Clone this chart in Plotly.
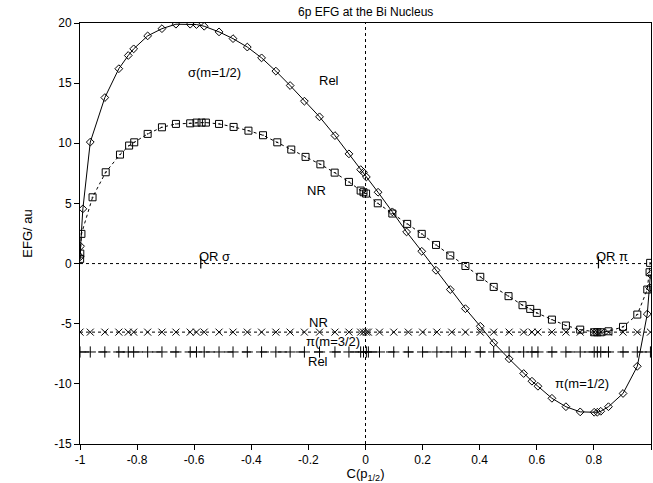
import plotly.graph_objects as go

# sigma(m=1/2), relativistic (diamonds, solid)
rel_sig_x = [-0.9995, -0.998, -0.99, -0.964, -0.913, -0.864, -0.831, -0.812, -0.763, -0.713,
             -0.664, -0.614, -0.592, -0.565, -0.513, -0.464, -0.414, -0.364, -0.314, -0.264,
             -0.214, -0.161, -0.107, -0.058, -0.017, -0.007, 0.003, 0.044, 0.094, 0.144,
             0.197, 0.247, 0.297, 0.35, 0.402, 0.449, 0.503, 0.554, 0.583, 0.604, 0.653,
             0.702, 0.752, 0.801, 0.812, 0.824, 0.851, 0.902, 0.952, 0.987, 0.995, 0.998]
rel_sig_y = [0.56, 1.44, 4.55, 10.1, 13.8, 16.2, 17.3, 17.85, 18.93, 19.53,
             19.9, 19.9, 19.87, 19.73, 19.26, 18.7, 18.0, 17.1, 16.0, 14.8,
             13.5, 12.2, 10.64, 9.12, 7.81, 7.59, 7.2, 5.93, 4.3, 2.63,
             1.02, -0.56, -2.16, -3.75, -5.21, -6.59, -7.92, -9.14, -9.78, -10.2, -11.2,
             -11.9, -12.33, -12.36, -12.36, -12.28, -11.9, -10.8, -8.54, -4.2, -2.0, -0.9]

# sigma(m=1/2), non-relativistic (squares, dotted)
nr_sig_x = [-0.9995, -0.999, -0.995, -0.956, -0.91, -0.86, -0.828, -0.81, -0.763, -0.713,
            -0.664, -0.614, -0.592, -0.574, -0.559, -0.513, -0.462, -0.41, -0.359, -0.309,
            -0.26, -0.21, -0.158, -0.108, -0.058, -0.017, -0.007, 0.002, 0.043, 0.094,
            0.146, 0.197, 0.247, 0.297, 0.35, 0.402, 0.449, 0.501, 0.55, 0.577, 0.6,
            0.653, 0.702, 0.752, 0.801, 0.812, 0.824, 0.851, 0.902, 0.952, 0.987, 0.995, 0.997]
nr_sig_y = [0.39, 0.83, 2.47, 5.51, 7.59, 9.06, 9.81, 10.08, 10.78, 11.33,
            11.61, 11.66, 11.72, 11.72, 11.72, 11.61, 11.36, 11.05, 10.67, 10.08,
            9.48, 8.87, 8.25, 7.56, 6.79, 6.07, 5.93, 5.82, 5.01, 4.16,
            3.3, 2.47, 1.55, 0.67, -0.2, -1.1, -1.94, -2.71, -3.46, -3.77, -4.1,
            -4.66, -5.15, -5.49, -5.71, -5.71, -5.71, -5.63, -5.26, -4.24, -2.16, -0.72, 0.06]

# pi(m=3/2) sampled on the same coefficients
pi32_x = [-1.0, -0.964, -0.913, -0.864, -0.831, -0.812, -0.763, -0.713, -0.664, -0.614,
          -0.592, -0.565, -0.513, -0.464, -0.414, -0.364, -0.314, -0.264, -0.214, -0.161,
          -0.107, -0.058, -0.017, -0.007, 0.003, 0.01, 0.049, 0.099, 0.15, 0.2, 0.25,
          0.302, 0.35, 0.402, 0.449, 0.503, 0.554, 0.583, 0.604, 0.653, 0.702, 0.752,
          0.801, 0.812, 0.824, 0.851, 0.902, 0.952, 0.998]
pi32_nr_y = [-5.7] * len(pi32_x)
pi32_rel_y = [-7.35] * len(pi32_x)

# quasi-relativistic reference points
qr_x = [-0.577, 0.816]
qr_labels = ["QR σ", "QR π"]

fig = go.Figure()

fig.add_hline(y=0, line=dict(color="black", width=1, dash="dot"))
fig.add_vline(x=0, line=dict(color="black", width=1, dash="dot"))

fig.add_trace(go.Scatter(x=pi32_x, y=pi32_nr_y, mode="lines+markers",
                         line=dict(color="black", width=1, dash="dot"),
                         marker=dict(symbol="x-thin-open", size=7, color="black",
                                     line=dict(width=1, color="black"))))
fig.add_trace(go.Scatter(x=pi32_x, y=pi32_rel_y, mode="lines+markers",
                         line=dict(color="black", width=1, dash="dash"),
                         marker=dict(symbol="cross-thin-open", size=8, color="black",
                                     line=dict(width=1, color="black"))))
fig.add_trace(go.Scatter(x=nr_sig_x, y=nr_sig_y, mode="lines+markers",
                         line=dict(color="black", width=1, dash="dot"),
                         marker=dict(symbol="square-open-dot", size=7, color="black",
                                     line=dict(width=1, color="black"))))
fig.add_trace(go.Scatter(x=rel_sig_x, y=rel_sig_y, mode="lines+markers",
                         line=dict(color="black", width=1),
                         marker=dict(symbol="diamond-open", size=6, color="black",
                                     line=dict(width=1, color="black"))))

for qx, lab in zip(qr_x, qr_labels):
    fig.add_trace(go.Scatter(x=[qx, qx], y=[0.6, -0.4], mode="lines",
                             line=dict(color="black", width=1.2)))
    fig.add_annotation(x=qx, y=0, text=lab, showarrow=False, xanchor="left",
                       yanchor="bottom", xshift=-4, yshift=-2,
                       font=dict(size=13, color="black"))

texts = [
    (-0.53, 15.9, "σ(m=1/2)"),
    (-0.127, 15.2, "Rel"),
    (-0.172, 6.1, "NR"),
    (-0.165, -4.9, "NR"),
    (-0.114, -6.5, "π(m=3/2)"),
    (-0.165, -8.1, "Rel"),
    (0.76, -10.0, "π(m=1/2)"),
]
for tx, ty, tt in texts:
    fig.add_annotation(x=tx, y=ty, text=tt, showarrow=False,
                       font=dict(size=13, color="black"))

fig.update_layout(
    width=653, height=483,
    margin=dict(l=80, r=2, t=23, b=39),
    paper_bgcolor="white", plot_bgcolor="white",
    showlegend=False,
    font=dict(family="Liberation Sans, Arial, sans-serif", size=12, color="black"),
    title=dict(text="6p EFG at the Bi Nucleus", x=0.56, xanchor="center",
               y=0.985, yanchor="top", font=dict(size=12)),
)
xt = [-1, -0.8, -0.6, -0.4, -0.2, 0, 0.2, 0.4, 0.6, 0.8, 1]
fig.update_xaxes(range=[-1, 1], tickvals=xt,
                 ticktext=["-1", "-0.8", "-0.6", "-0.4", "-0.2", "0", "0.2", "0.4", "0.6", "0.8", "1"],
                 showline=True, linecolor="black", linewidth=1, mirror=True,
                 ticks="outside", ticklen=5, tickcolor="black", showgrid=False,
                 zeroline=False, title=dict(text="C(p<sub>1/2</sub>)", standoff=0,
                                            font=dict(size=13)))
yt = [-15, -10, -5, 0, 5, 10, 15, 20]
fig.update_yaxes(range=[-15, 20], tickvals=yt,
                 ticktext=["-15", "-10", "-5", "0", "5", "10", "15", "20"],
                 showline=True, linecolor="black", linewidth=1, mirror=True,
                 ticks="outside", ticklen=5, tickcolor="black", showgrid=False,
                 zeroline=False, title=dict(text="EFG/ au", standoff=18,
                                            font=dict(size=13)))

fig.write_html("out.html", config={"displayModeBar": False},
               post_script="document.body.style.margin='0px';")
